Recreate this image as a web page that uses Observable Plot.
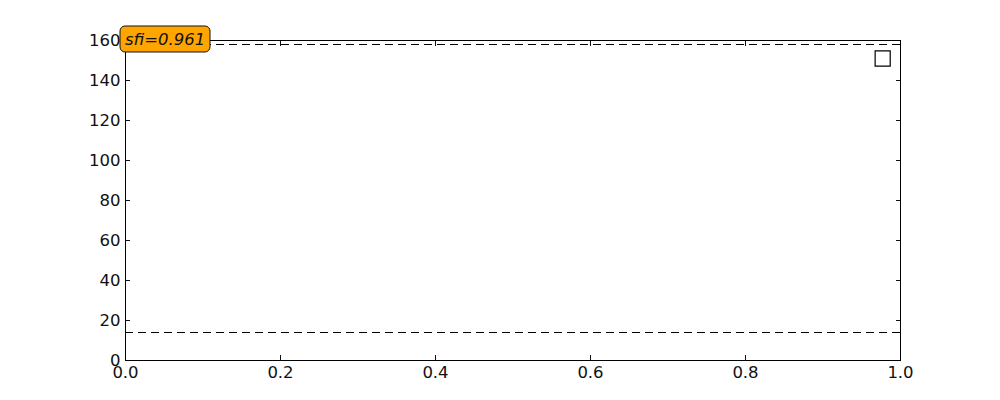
<!DOCTYPE html>
<html><head><meta charset="utf-8">
<script src="https://cdn.jsdelivr.net/npm/d3@7"></script>
<script src="https://cdn.jsdelivr.net/npm/@observablehq/plot@0.6"></script>
<style>body{margin:0;background:#fff;} #chart svg{font-family:"DejaVu Sans",sans-serif;}</style>
</head><body><div id="chart"></div>
<script>
const xTicks = [0, 0.2, 0.4, 0.6, 0.8, 1.0];
const yTicks = [0, 20, 40, 60, 80, 100, 120, 140, 160];
const hLines = [158, 14];
const pointX = [0.977];
const pointY = [151];
const labelText = "sfi=0.961";

const points = pointX.map((x, i) => ({x, y: pointY[i]}));

const labelMark = (index, scales, values, dims) => {
  const g = d3.create("svg:g");
  const x0 = dims.marginLeft, y0 = dims.marginTop - 1;
  g.append("rect").attr("x", x0 - 5).attr("y", y0 - 13).attr("width", 90).attr("height", 26)
    .attr("rx", 5).attr("fill", "#ffa500").attr("stroke", "#111").attr("stroke-width", 1);
  g.append("text").attr("x", x0).attr("y", y0).attr("dy", "0.35em").attr("text-anchor", "start")
    .attr("font-style", "italic").attr("font-size", 16.5).attr("fill", "#111").text(labelText);
  return g.node();
};

const chart = Plot.plot({
  width: 1000, height: 400,
  marginLeft: 125, marginRight: 100, marginTop: 40, marginBottom: 40,
  style: {fontSize: "16.5px", fontFamily: "DejaVu Sans, sans-serif", color: "#111"},
  x: {domain: [0, 1]},
  y: {domain: [0, 160]},
  marks: [
    Plot.ruleY(hLines, {stroke: "black", strokeDasharray: "8,5", strokeWidth: 1.2}),
    Plot.dot(points, {x: "x", y: "y", symbol: "square", r: 8.5, stroke: "black", fill: "none", strokeWidth: 1.2}),
    Plot.axisX({ticks: xTicks, tickFormat: d3.format(".1f"), tickSize: 0, tickPadding: 6, label: null}),
    Plot.axisX({ticks: xTicks, tickSize: -5, tickFormat: () => "", label: null}),
    Plot.axisX({anchor: "top", ticks: xTicks, tickSize: -5, tickFormat: () => "", label: null}),
    Plot.axisY({ticks: yTicks, tickSize: 0, tickPadding: 5, label: null}),
    Plot.axisY({ticks: yTicks, tickSize: -5, tickFormat: () => "", label: null}),
    Plot.axisY({anchor: "right", ticks: yTicks, tickSize: -5, tickFormat: () => "", label: null}),
    Plot.frame({stroke: "black", strokeWidth: 1}),
    labelMark
  ]
});
document.getElementById("chart").append(chart);
</script></body></html>
